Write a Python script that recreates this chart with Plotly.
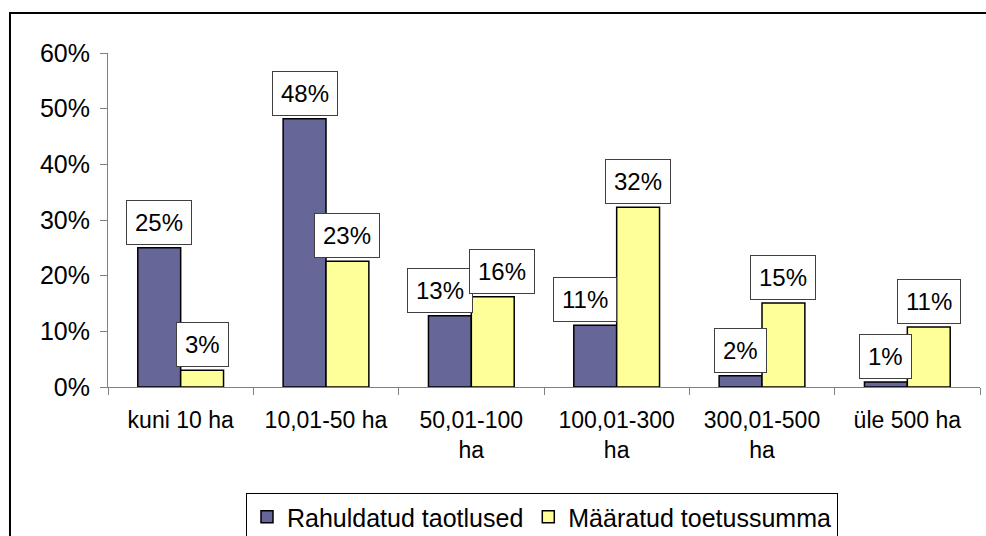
import plotly.graph_objects as go

# size groups (ha)
categories = ["kuni 10 ha", "10,01-50 ha", "50,01-100<br>ha", "100,01-300<br>ha", "300,01-500<br>ha", "üle 500 ha"]
series_names = ["Rahuldatud taotlused", "Määratud toetussumma"]
# shares in percent
rahuldatud = [25.0, 48.2, 12.8, 11.1, 2.0, 0.9]
maaratud = [3.0, 22.6, 16.2, 32.3, 15.1, 10.8]
colors = ["#666699", "#FFFF99"]

FONT = "Arial, Liberation Sans, sans-serif"
bargap = 0.41

bars = []
for name, vals, col in zip(series_names, [rahuldatud, maaratud], colors):
    bars.append(go.Bar(x=categories, y=[v / 100 for v in vals], name=name,
                       marker=dict(color=col, line=dict(color="black", width=1.5))))

# value labels in boxes above each bar; a few are pushed aside so they don't collide
nudge = {(0, 2): -10, (1, 2): 9, (0, 3): -10}
annotations = []
barw = (1 - bargap) / 2
for k, vals in enumerate([rahuldatud, maaratud]):
    for i, v in enumerate(vals):
        annotations.append(dict(
            x=i + (k - 0.5) * barw, y=v / 100, xref="x", yref="y",
            text=f"{int(v + 0.5)}%", showarrow=False, yanchor="bottom", yshift=3,
            xshift=nudge.get((k, i), 0),
            font=dict(size=24, color="black", family=FONT),
            bgcolor="white", bordercolor="#404040", borderwidth=1, borderpad=8,
        ))

layout = go.Layout(
    width=986, height=536,
    margin=dict(l=108, r=6, t=53, b=149),
    paper_bgcolor="white", plot_bgcolor="white",
    font=dict(family=FONT, size=24, color="black"),
    barmode="group", bargap=bargap, bargroupgap=0,
    xaxis=dict(showline=True, linecolor="#808080", linewidth=1, ticks="outside",
               tickson="boundaries", ticklen=7, tickcolor="#808080", showgrid=False,
               tickfont=dict(size=23), ticklabelstandoff=12),
    yaxis=dict(range=[0, 0.6], dtick=0.1, tickformat=".0%", showline=True,
               linecolor="#808080", linewidth=1, ticks="outside", ticklen=7,
               tickcolor="#808080", showgrid=False, zeroline=False,
               tickfont=dict(size=25), ticklabelstandoff=5),
    # container ref so the legend may run off the bottom edge like the original
    legend=dict(orientation="h", x=0.4977, xanchor="center", y=0.0802, yanchor="top",
                yref="container", bordercolor="black", borderwidth=1, font=dict(size=25)),
    annotations=annotations,
    shapes=[dict(type="rect", xref="paper", yref="paper", x0=-0.1124, x1=1.02,
                 y0=-0.5, y1=1.1198, line=dict(color="black", width=2))],
)

fig = go.Figure(data=bars, layout=layout)
# drop the default body margin so the 986x536 figure fills the window exactly
fig.write_html("out.html", config={"displayModeBar": False},
               post_script="document.body.style.margin='0px';")
